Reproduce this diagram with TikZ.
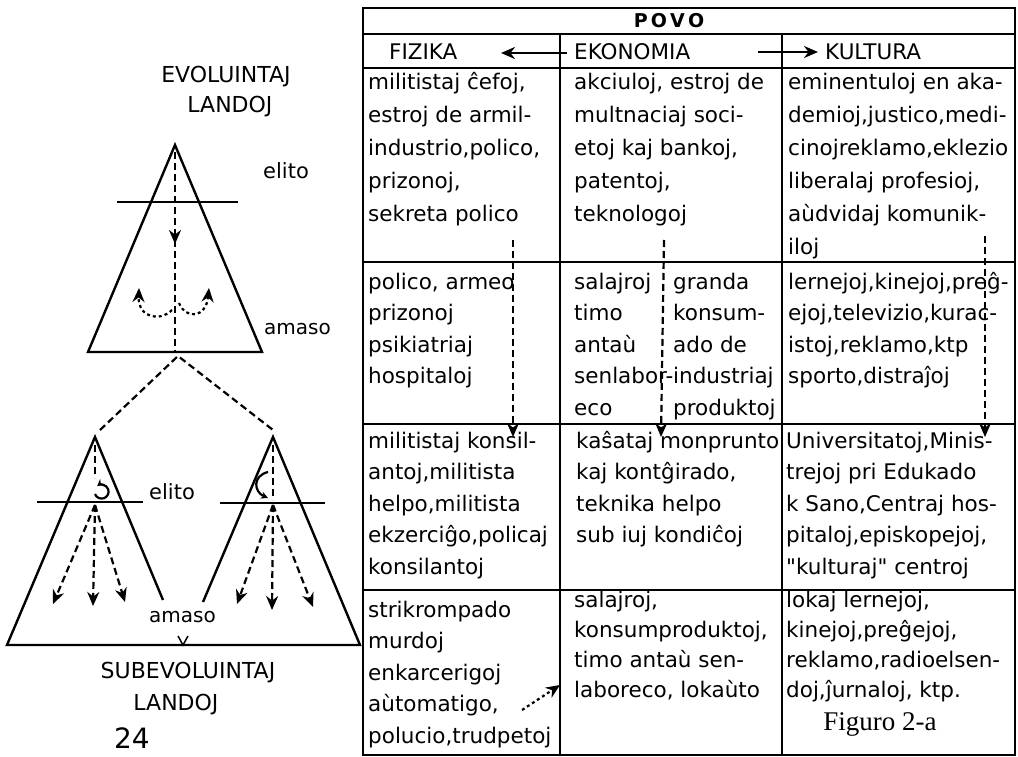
\documentclass[tikz,border=0pt]{standalone}
\usepackage{fontspec}
\setmainfont{DejaVu Sans}[Ligatures=TeXOff]
\newfontfamily\figfont{Liberation Serif}
\usetikzlibrary{arrows.meta}

\begin{document}
\begin{tikzpicture}[x=1pt,y=-1pt,line width=2.4pt,
cell/.style={anchor=north west, align=left, inner sep=0pt, font=\fontsize{21.5}{33}\selectfont},
cellb/.style={cell, font=\fontsize{21.5}{31.5}\selectfont},
cellc/.style={cell, font=\fontsize{21.5}{30}\selectfont},
lbl/.style={inner sep=0pt, font=\fontsize{22}{26}\selectfont},
dsh/.style={line width=2.2pt, dash pattern=on 7pt off 4pt},
dots/.style={line width=2.2pt, dash pattern=on 3pt off 3pt},
tip/.style={-{Stealth[length=14pt,width=12pt]}}]
\useasboundingbox [fill=white] (0,0) rectangle (1018,757);

% upper triangle
\draw (175,145) coordinate (t) -- (88,352) coordinate (tl) -- (262,352) coordinate (tr) -- cycle;
\draw (117,202) -- (238,202);
\draw [dsh, tip] (175,152) -- (175,244);
\draw [dsh] (175,240) -- (175,352);
\draw [dots, tip] (172,310) .. controls (160,322) and (138,318) .. (139,288);
\draw [dots, tip] (179,303) .. controls (186,320) and (206,318) .. (209,288);
\draw [dsh] (100,430) -- (178,356) coordinate (v) -- (273,430);

% lower triangles
\draw (163,600) -- (95,437) coordinate (l) -- (7,645) coordinate (a)
 -- (360,645) coordinate (b) -- (273,437) coordinate (r) -- (203,602);
\draw (37,502) -- (143,502);
\draw (220,503) -- (325,503);
\draw [line width=1.5pt] (178,636) -- (183,645) -- (188,636);

\draw [dsh] (95,445) -- (95,478);
\draw [line width=2.2pt, -{Stealth[length=7pt,width=7pt]}] (95,494) arc [start angle=160, end angle=-130, radius=7];
\foreach \x/\y in {53/604, 93/606, 125/602}
  \draw [dsh, tip] (95,505) -- (\x,\y);

\draw [dsh] (273,445) -- (273,500);
\draw [line width=2.2pt, -{Stealth[length=7pt,width=7pt]}] (268,472) .. controls (252,476) and (254,492) .. (268,498);
\foreach \x/\y in {237/604, 272/610, 313/607}
  \draw [dsh, tip] (273,505) -- (\x,\y);

\node (ev) [lbl] at (226,77) {EVOLUINTAJ};
\node (la) [lbl] at (230,107) {LANDOJ};
\node (el1) [lbl, anchor=west, font=\fontsize{21}{24}\selectfont] at (262,171) {elito};
\node (am1) [lbl, anchor=west, font=\fontsize{20}{24}\selectfont] at (263,329) {amaso};
\node (el2) [lbl, anchor=west, font=\fontsize{21}{24}\selectfont] at (148,492) {elito};
\node (am2) [lbl, anchor=west, font=\fontsize{20}{24}\selectfont] at (148,617) {amaso};
\node (sub) [lbl] at (188,673) {SUBEVOLUINTAJ};
\node (la2) [lbl] at (176,705) {LANDOJ};
\node (pg) [lbl, font=\fontsize{28}{32}\selectfont] at (132,738) {24};

% table
\draw (363,8) rectangle (1015,755);
\foreach \y in {34,68,262,424,590}
  \draw (363,\y) -- (1015,\y);
\draw (560,34) -- (560,755);
\draw (782,34) -- (782,755);

\node (povo) [inner sep=0pt, font=\bfseries\fontsize{19}{22}\selectfont] at (669,21) {P\,O\,V\,O};
\node (fiz) [lbl, anchor=west, font=\fontsize{21.5}{24}\selectfont] at (388,52) {FIZIKA};
\node (eko) [lbl, anchor=west, font=\fontsize{21.5}{24}\selectfont] at (573,52) {EKONOMIA};
\node (kul) [lbl, anchor=west, font=\fontsize{21.5}{24}\selectfont] at (824,52) {KULTURA};
\draw [line width=2.8pt, tip] (567,53) -- (501,53);
\draw [line width=2.8pt, tip] (758,52) -- (818,52);

\node (c11) [cell] at (367,65) {\strut militistaj ĉefoj,\\estroj de armil-\\industrio,polico,\\prizonoj,\\sekreta polico};
\node (c12) [cell] at (573,65) {\strut akciuloj, estroj de\\multnaciaj soci-\\etoj kaj bankoj,\\patentoj,\\teknologoj};
\node (c13) [cell] at (787,65) {\strut eminentuloj en aka-\\demioj,justico,medi-\\cinojreklamo,eklezio\\liberalaj profesioj,\\aùdvidaj komunik-\\iloj};

\node (c21) [cellb] at (367,266) {\strut polico, armeo\\prizonoj\\psikiatriaj\\hospitaloj};
\node (c22) [cellb] at (573,266) {\strut salajroj\\timo\\antaù\\senlabor-\\eco};
\node (c22b) [cellb] at (672,266) {\strut granda\\konsum-\\ado de\\industriaj\\produktoj};
\node (c23) [cellb] at (787,266) {\strut lernejoj,kinejoj,preĝ-\\ejoj,televizio,kurac-\\istoj,reklamo,ktp\\sporto,distraĵoj};

\node (c31) [cellb] at (367,425) {\strut militistaj konsil-\\antoj,militista\\helpo,militista\\ekzerciĝo,policaj\\konsilantoj};
\node (c32) [cellb] at (575,425) {\strut kaŝataj monprunto\\kaj kontĝirado,\\teknika helpo\\sub iuj kondiĉoj};
\node (c33) [cellb] at (785,425) {\strut Universitatoj,Minis-\\trejoj pri Edukado\\k Sano,Centraj hos-\\pitaloj,episkopejoj,\\"kulturaj" centroj};

\node (c41) [cellb] at (367,594) {\strut strikrompado\\murdoj\\enkarcerigoj\\aùtomatigo,\\polucio,trudpetoj};
\node (c42) [cellc] at (573,585) {\strut salajroj,\\konsumproduktoj,\\timo antaù sen-\\laboreco, lokaùto};
\node (c43) [cellc] at (785,585) {\strut lokaj lernejoj,\\kinejoj,preĝejoj,\\reklamo,radioelsen-\\doj,ĵurnaloj, ktp.};
\node (fig) [inner sep=0pt, font=\figfont\fontsize{27}{30}\selectfont] at (880,724) {Figuro 2-a};

% flows
\draw [dsh, tip] (513,240) -- (513,437);
\draw [dsh, tip] (664,240) -- (661,437);
\draw [dsh, tip] (985,236) -- (985,437);
\draw [dots, tip] (522,710) -- (560,685);
\end{tikzpicture}
\end{document}
